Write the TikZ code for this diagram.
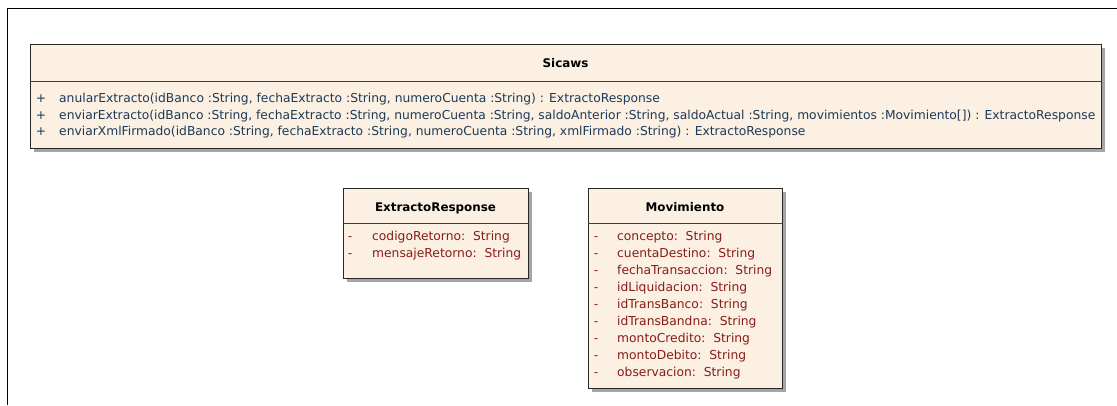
\documentclass[tikz,border=0pt]{standalone}
\usepackage{fontspec}
\setmainfont{DejaVu Sans}
\usetikzlibrary{shadows}
\definecolor{boxfill}{RGB}{251,240,225}
\definecolor{optext}{RGB}{28,58,88}
\definecolor{attrtext}{RGB}{135,28,28}
\definecolor{shadowc}{RGB}{165,165,165}
\definecolor{linec}{RGB}{40,40,40}
\begin{document}
\begin{tikzpicture}[x=1pt,y=-1pt,
  umlbox/.style={draw=linec, line width=1pt, fill=boxfill, anchor=north west, inner sep=0pt,
    drop shadow={shadow xshift=3pt, shadow yshift=-3pt, fill=shadowc, opacity=1}},
  divider/.style={draw=linec!90, line width=1pt},
  title/.style={font=\fontsize{11.9}{13}\selectfont\bfseries, inner sep=0pt, text height=8.5pt, text depth=2.5pt},
  oprow/.style={anchor=west, inner sep=0pt, text=optext, font=\fontsize{12.3}{13}\selectfont, text height=8.5pt, text depth=2.5pt},
  attrrow/.style={anchor=west, inner sep=0pt, text=attrtext, font=\fontsize{12.3}{13}\selectfont, text height=8.5pt, text depth=2.5pt},
  vis/.style={anchor=center, inner sep=0pt, font=\fontsize{12.3}{13}\selectfont, text height=8.5pt, text depth=2.5pt},
  frameline/.style={line width=1.8pt, draw=black}
]
\useasboundingbox (0,0) rectangle (1117,405);
\draw[frameline] (7.5,405) -- (7.5,8.5) -- (1117,8.5);

% Sicaws
\node[umlbox, minimum width=1071pt, minimum height=104pt] (sicaws) at (30,44) {};
\draw[divider] ([yshift=-37pt]sicaws.north west) -- ([yshift=-37pt]sicaws.north east);
\node[title] (sicawsT) at (565.5,64) {Sicaws};
\node[vis, text=optext] (s1v) at (41,99) {+};
\node[oprow] (s1) at (59,99) {anularExtracto(idBanco :String, fechaExtracto :String, numeroCuenta :String) : ExtractoResponse};
\node[vis, text=optext] (s2v) at (41,116) {+};
\node[oprow] (s2) at (59,116) {enviarExtracto(idBanco :String, fechaExtracto :String, numeroCuenta :String, saldoAnterior :String, saldoActual :String, movimientos :Movimiento[]) : ExtractoResponse};
\node[vis, text=optext] (s3v) at (41,132) {+};
\node[oprow] (s3) at (59,132) {enviarXmlFirmado(idBanco :String, fechaExtracto :String, numeroCuenta :String, xmlFirmado :String) : ExtractoResponse};

% ExtractoResponse
\node[umlbox, minimum width=185pt, minimum height=90pt] (er) at (343,188) {};
\draw[divider] ([yshift=-35pt]er.north west) -- ([yshift=-35pt]er.north east);
\node[title] (erT) at (435.5,208) {ExtractoResponse};
\node[vis, text=attrtext] (e1v) at (350,237) {-};
\node[attrrow] (e1) at (372,237) {codigoRetorno:\ \ String};
\node[vis, text=attrtext] (e2v) at (350,254) {-};
\node[attrrow] (e2) at (372,254) {mensajeRetorno:\ \ String};

% Movimiento
\node[umlbox, minimum width=194pt, minimum height=200pt] (mv) at (588,188) {};
\draw[divider] ([yshift=-35pt]mv.north west) -- ([yshift=-35pt]mv.north east);
\node[title] (mvT) at (685,208) {Movimiento};
\foreach \i/\t in {0/concepto, 1/cuentaDestino, 2/fechaTransaccion, 3/idLiquidacion, 4/idTransBanco, 5/idTransBandna, 6/montoCredito, 7/montoDebito, 8/observacion}{
  \node[vis, text=attrtext] (m\i v) at (596,237+17*\i) {-};
  \node[attrrow] (m\i) at (617,237+17*\i) {\t:\ \ String};
}
\end{tikzpicture}
\end{document}
